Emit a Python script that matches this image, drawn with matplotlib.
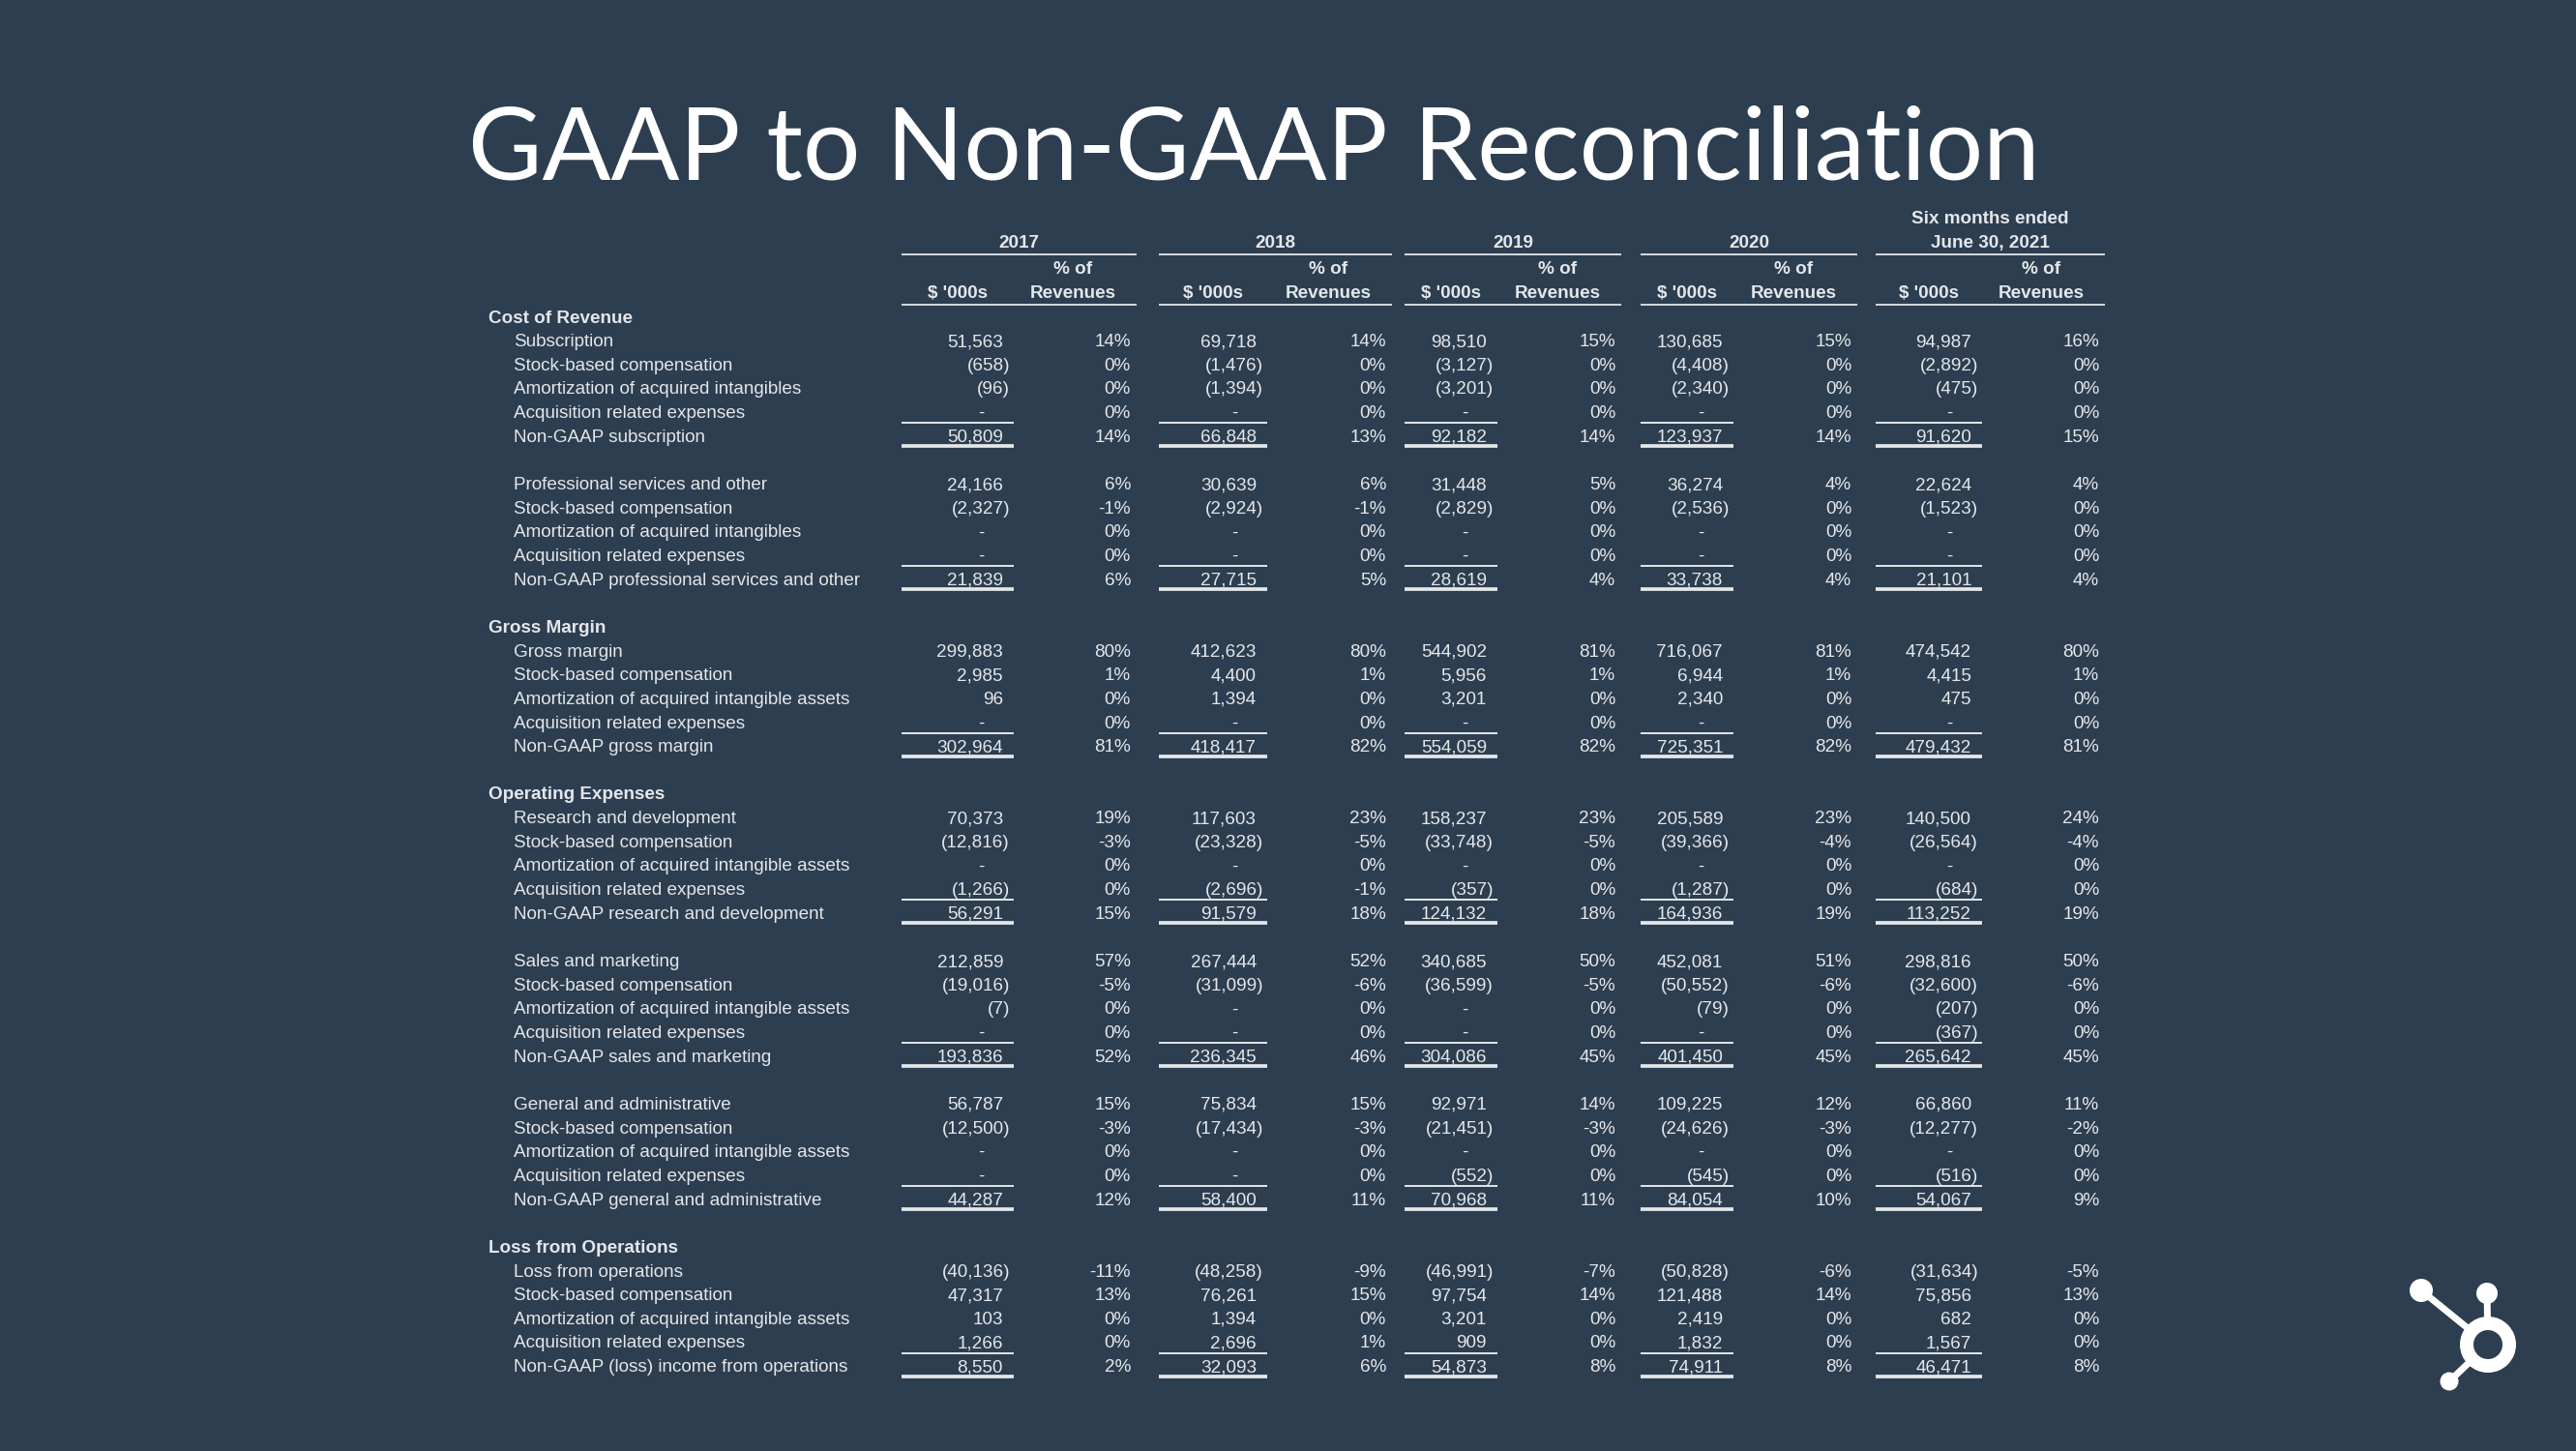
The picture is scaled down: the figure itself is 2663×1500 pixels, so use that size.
import matplotlib
matplotlib.use("Agg")
import matplotlib.pyplot as plt
from matplotlib.patches import Circle, Wedge

BG = "#2D3E50"
FG = "#E4E7EA"

title = "GAAP to Non-GAAP Reconciliation"
periods = ["2017", "2018", "2019", "2020", "June 30, 2021"]
period_note = "Six months ended"

sections = ["Cost of Revenue", "Gross Margin", "Operating Expenses", "Loss from Operations"]
section_start = [0, 2, 3, 6]   # block where each section begins

row_labels = [
    "Subscription", "Stock-based compensation", "Amortization of acquired intangibles",
    "Acquisition related expenses", "Non-GAAP subscription",
    "Professional services and other", "Stock-based compensation", "Amortization of acquired intangibles",
    "Acquisition related expenses", "Non-GAAP professional services and other",
    "Gross margin", "Stock-based compensation", "Amortization of acquired intangible assets",
    "Acquisition related expenses", "Non-GAAP gross margin",
    "Research and development", "Stock-based compensation", "Amortization of acquired intangible assets",
    "Acquisition related expenses", "Non-GAAP research and development",
    "Sales and marketing", "Stock-based compensation", "Amortization of acquired intangible assets",
    "Acquisition related expenses", "Non-GAAP sales and marketing",
    "General and administrative", "Stock-based compensation", "Amortization of acquired intangible assets",
    "Acquisition related expenses", "Non-GAAP general and administrative",
    "Loss from operations", "Stock-based compensation", "Amortization of acquired intangible assets",
    "Acquisition related expenses", "Non-GAAP (loss) income from operations",
]

# $ '000s, None = "-"
amt_2017 = [51563, -658, -96, None, 50809,
            24166, -2327, None, None, 21839,
            299883, 2985, 96, None, 302964,
            70373, -12816, None, -1266, 56291,
            212859, -19016, -7, None, 193836,
            56787, -12500, None, None, 44287,
            -40136, 47317, 103, 1266, 8550]
pct_2017 = [14, 0, 0, 0, 14, 6, -1, 0, 0, 6, 80, 1, 0, 0, 81, 19, -3, 0, 0, 15,
            57, -5, 0, 0, 52, 15, -3, 0, 0, 12, -11, 13, 0, 0, 2]

amt_2018 = [69718, -1476, -1394, None, 66848,
            30639, -2924, None, None, 27715,
            412623, 4400, 1394, None, 418417,
            117603, -23328, None, -2696, 91579,
            267444, -31099, None, None, 236345,
            75834, -17434, None, None, 58400,
            -48258, 76261, 1394, 2696, 32093]
pct_2018 = [14, 0, 0, 0, 13, 6, -1, 0, 0, 5, 80, 1, 0, 0, 82, 23, -5, 0, -1, 18,
            52, -6, 0, 0, 46, 15, -3, 0, 0, 11, -9, 15, 0, 1, 6]

amt_2019 = [98510, -3127, -3201, None, 92182,
            31448, -2829, None, None, 28619,
            544902, 5956, 3201, None, 554059,
            158237, -33748, None, -357, 124132,
            340685, -36599, None, None, 304086,
            92971, -21451, None, -552, 70968,
            -46991, 97754, 3201, 909, 54873]
pct_2019 = [15, 0, 0, 0, 14, 5, 0, 0, 0, 4, 81, 1, 0, 0, 82, 23, -5, 0, 0, 18,
            50, -5, 0, 0, 45, 14, -3, 0, 0, 11, -7, 14, 0, 0, 8]

amt_2020 = [130685, -4408, -2340, None, 123937,
            36274, -2536, None, None, 33738,
            716067, 6944, 2340, None, 725351,
            205589, -39366, None, -1287, 164936,
            452081, -50552, -79, None, 401450,
            109225, -24626, None, -545, 84054,
            -50828, 121488, 2419, 1832, 74911]
pct_2020 = [15, 0, 0, 0, 14, 4, 0, 0, 0, 4, 81, 1, 0, 0, 82, 23, -4, 0, 0, 19,
            51, -6, 0, 0, 45, 12, -3, 0, 0, 10, -6, 14, 0, 0, 8]

amt_2021 = [94987, -2892, -475, None, 91620,
            22624, -1523, None, None, 21101,
            474542, 4415, 475, None, 479432,
            140500, -26564, None, -684, 113252,
            298816, -32600, -207, -367, 265642,
            66860, -12277, None, -516, 54067,
            -31634, 75856, 682, 1567, 46471]
pct_2021 = [16, 0, 0, 0, 15, 4, 0, 0, 0, 4, 80, 1, 0, 0, 81, 24, -4, 0, 0, 19,
            50, -6, 0, 0, 45, 11, -2, 0, 0, 9, -5, 13, 0, 0, 8]

amounts = [amt_2017, amt_2018, amt_2019, amt_2020, amt_2021]
pcts = [pct_2017, pct_2018, pct_2019, pct_2020, pct_2021]

# column geometry (pixels)
block_left = [932, 1198, 1452, 1696, 1939]
dollar_right = [1037, 1299, 1537, 1781, 2038]
pct_right = [1169, 1433, 1670, 1914, 2170]

fig = plt.figure(figsize=(26.63, 15), dpi=100)
fig.patch.set_facecolor(BG)
ax = fig.add_axes([0, 0, 1, 1])
ax.set_xlim(0, 2663)
ax.set_ylim(1500, 0)
ax.axis("off")

ax.text(484, 186, title, color="white", fontsize=75.5, family="Lato", va="baseline", ha="left")

FS = 13.6
tkw = dict(color=FG, fontsize=FS, family="Liberation Sans", va="baseline")


def fmt_amt(v):
    if v is None:
        return "-"
    if v < 0:
        return "({:,})".format(-v)
    return "{:,}".format(v)


# header
for p in range(5):
    x0, x1 = block_left[p], pct_right[p] + 6
    ax.text((x0 + x1) / 2, 256, periods[p], ha="center", fontweight="bold", **tkw)
    if p == 4:
        ax.text((x0 + x1) / 2, 231, period_note, ha="center", fontweight="bold", **tkw)
    ax.plot([x0, x1], [263, 263], color=FG, lw=1.3, solid_capstyle="butt")
    dc = (block_left[p] + dollar_right[p] + 11) / 2
    ax.text(dc, 308, "$ '000s", ha="center", fontweight="bold", **tkw)
    pc = pct_right[p] - 60
    ax.text(pc, 283, "% of", ha="center", fontweight="bold", **tkw)
    ax.text(pc, 308, "Revenues", ha="center", fontweight="bold", **tkw)
    ax.plot([x0, x1], [315, 315], color=FG, lw=1.3, solid_capstyle="butt")

# body rows
rows = []
for b in range(7):
    if b > 0:
        rows.append(None)
    if b in section_start:
        rows.append(sections[section_start.index(b)])
    for k in range(5):
        rows.append(b * 5 + k)

ROW0, STEP = 327, 24.65
for i, r in enumerate(rows):
    y = ROW0 + i * STEP
    yb = y + 6.5
    if r is None:
        continue
    if isinstance(r, str):
        ax.text(505, yb, r, ha="left", fontweight="bold", **tkw)
        continue
    ax.text(531, yb, row_labels[r], ha="left", **tkw)
    for p in range(5):
        v = amounts[p][r]
        s = fmt_amt(v)
        if v is None:
            ax.text(dollar_right[p] - 23, yb, s, ha="center", **tkw)
        elif v < 0:
            ax.text(dollar_right[p] + 7, yb, s, ha="right", **tkw)
        else:
            ax.text(dollar_right[p], yb, s, ha="right", **tkw)
        ax.text(pct_right[p], yb, "{}%".format(pcts[p][r]), ha="right", **tkw)
        if r % 5 == 4:
            xa, xb = block_left[p], dollar_right[p] + 11
            ax.plot([xa, xb], [y - 13, y - 13], color=FG, lw=1.4, solid_capstyle="butt")
            ax.plot([xa, xb], [y + 11, y + 11], color=FG, lw=2.7, solid_capstyle="butt")

# sprocket logo
cx, cy = 2572, 1390
knobs = [(2571, 1337, 11), (2503, 1334, 12), (2532, 1428, 9.5)]
for kx, ky, kr in knobs:
    d = ((kx - cx) ** 2 + (ky - cy) ** 2) ** 0.5
    ex = cx + (kx - cx) * 27 / d
    ey = cy + (ky - cy) * 27 / d
    ax.plot([kx, ex], [ky, ey], color="white", lw=5, solid_capstyle="butt")
    ax.add_patch(Circle((kx, ky), kr, color="white", lw=0))
ax.add_patch(Wedge((cx, cy), 29, 0, 360, width=14, color="white", lw=0))

fig.savefig("out.png", dpi=100, facecolor=BG)
